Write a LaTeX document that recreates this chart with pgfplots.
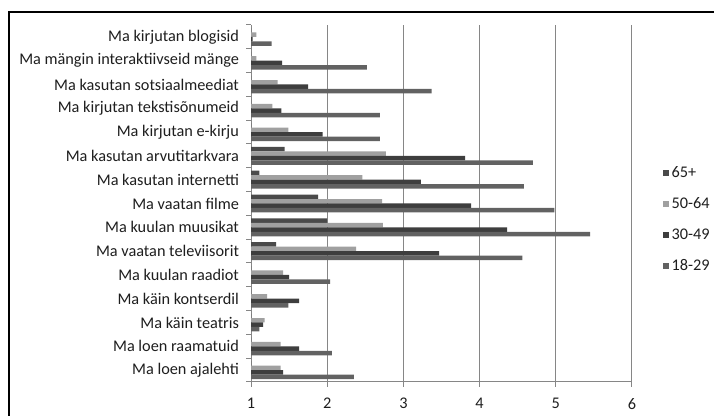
\documentclass[border=0pt]{standalone}
\usepackage{pgfplots}
\pgfplotsset{compat=1.18}
\usepackage{fontspec}
\setmainfont{Carlito}
\definecolor{cA}{RGB}{74,74,74}
\definecolor{cB}{RGB}{160,160,160}
\definecolor{cC}{RGB}{62,62,62}
\definecolor{cD}{RGB}{98,98,98}
\definecolor{axisgray}{RGB}{134,134,134}
\definecolor{txt}{RGB}{30,30,30}
\begin{document}
\begin{tikzpicture}
\useasboundingbox (0,0) rectangle (535.5pt,312pt);
\draw[line width=1.5pt] (6.75pt,0) -- (6.75pt,303pt) -- (535.5pt,303pt);
\begin{axis}[
  at={(188.25pt,25.5pt)}, anchor=south west,
  scale only axis, width=285.75pt, height=267.75pt,
  xbar, bar width=3.37pt,
  xmin=1, xmax=6, ymin=-0.5, ymax=14.5,
  axis lines*=left,
  axis line style={draw=axisgray, line width=0.75pt},
  xtick={1,2,3,4,5,6}, xticklabels={1,2,3,4,5,6},
  xmajorgrids, grid style={draw=axisgray, line width=0.75pt},
  xtick style={draw=axisgray, line width=0.75pt},
  major tick length=3.5pt, tick align=outside,
  ytick={0,...,14},
  yticklabels={Ma loen ajalehti, Ma loen raamatuid, Ma käin teatris, Ma käin kontserdil, Ma kuulan raadiot, Ma vaatan televiisorit, Ma kuulan muusikat, Ma vaatan filme, Ma kasutan internetti, Ma kasutan arvutitarkvara, Ma kirjutan e-kirju, Ma kirjutan tekstisõnumeid, Ma kasutan sotsiaalmeediat, Ma mängin interaktiivseid mänge, Ma kirjutan blogisid},
  ytick style={draw=none},
  extra y ticks={-0.5,0.5,...,14.5},
  extra y tick labels={},
  extra y tick style={ytick style={draw=axisgray, line width=0.75pt}, grid=none},
  ticklabel style={font=\fontsize{12.2}{14}\selectfont, text=txt},
  yticklabel style={xshift=-2pt},
  xticklabel style={yshift=-5pt},
  legend style={at={(1.07,0.455)}, anchor=west, draw=none, fill=none,
    font=\fontsize{12.2}{14}\selectfont, text=txt, row sep=9.6pt},
  legend cell align=left,
  legend image code/.code={\fill[#1] (0pt,-2.3pt) rectangle (4.6pt,2.3pt);},
]
\addplot[fill=cA, draw=none, bar shift=5.05pt] coordinates {
 (1,0) (1,1) (1,2) (1,3) (1,4) (1.33,5) (2.00,6) (1.88,7) (1.11,8) (1.44,9) (1,10) (1,11) (1,12) (1,13) (1,14)};
\addplot[fill=cB, draw=none, bar shift=1.68pt] coordinates {
 (1.39,0) (1.39,1) (1.18,2) (1.21,3) (1.42,4) (2.38,5) (2.73,6) (2.72,7) (2.46,8) (2.77,9) (1.49,10) (1.28,11) (1.35,12) (1.07,13) (1.07,14)};
\addplot[fill=cC, draw=none, bar shift=-1.68pt] coordinates {
 (1.42,0) (1.63,1) (1.16,2) (1.63,3) (1.50,4) (3.47,5) (4.36,6) (3.89,7) (3.23,8) (3.81,9) (1.94,10) (1.40,11) (1.75,12) (1.41,13) (1.02,14)};
\addplot[fill=cD, draw=none, bar shift=-5.05pt] coordinates {
 (2.35,0) (2.06,1) (1.11,2) (1.49,3) (2.04,4) (4.56,5) (5.45,6) (4.98,7) (4.58,8) (4.70,9) (2.69,10) (2.69,11) (3.37,12) (2.52,13) (1.27,14)};
\legend{65+,50-64,30-49,18-29}
\end{axis}
\end{tikzpicture}
\end{document}
